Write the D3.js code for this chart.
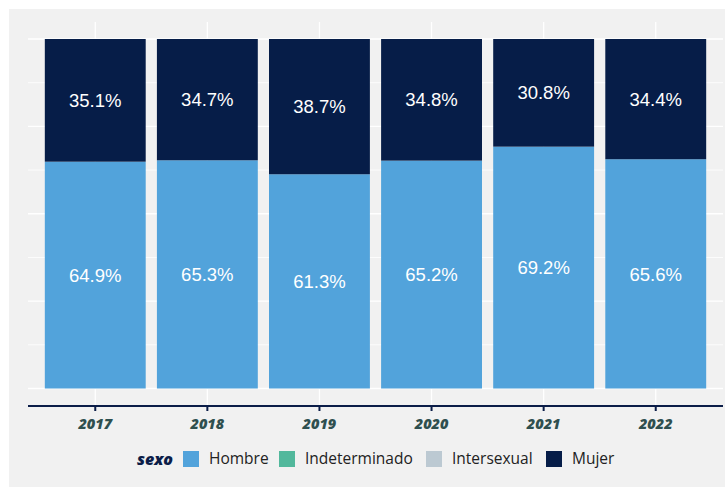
<!DOCTYPE html>
<html>
<head>
<meta charset="utf-8">
<script src="https://cdn.jsdelivr.net/npm/d3@7"></script>
<style>
  body { margin: 0; background: #fff; }
  svg { display: block; }
</style>
</head>
<body>
<svg id="chart"></svg>
<script>
// Data
const years = ['2017', '2018', '2019', '2020', '2021', '2022'];
const hombre = [64.9, 65.3, 61.3, 65.2, 69.2, 65.6];
const mujer = [35.1, 34.7, 38.7, 34.8, 30.8, 34.4];
const legendKeys = ['Hombre', 'Indeterminado', 'Intersexual', 'Mujer'];
const legendColors = ['#52a3db', '#52b89c', '#bcc9d2', '#061d48'];

function drawChart() {
    const width = 725;
    const height = 487;
    const svg = d3.select('#chart')
        .attr('width', width)
        .attr('height', height);

    // gray background
    svg.append('rect')
        .attr('x', 9).attr('y', 9)
        .attr('width', width - 9).attr('height', height - 9)
        .attr('fill', '#f1f1f1');

    const panel = { left: 28, right: 723, top: 22, bottom: 406 };

    // band scale with ggplot-like expansion (0.6 of a band on each side)
    const step = (panel.right - panel.left) / (years.length - 1 + 1.2);
    const x = d3.scalePoint()
        .domain(years)
        .range([panel.left + 0.6 * step, panel.right - 0.6 * step]);
    const barW = step * 0.9;

    const y = d3.scaleLinear()
        .domain([0, 100])
        .range([388.5, 39]);

    // gridlines
    const grid = svg.append('g');
    grid.selectAll('line.h')
        .data(d3.range(0, 100.1, 12.5))
        .join('line')
        .attr('x1', panel.left).attr('x2', panel.right)
        .attr('y1', d => y(d)).attr('y2', d => y(d))
        .attr('stroke', '#fff')
        .attr('stroke-width', d => d % 25 === 0 ? 1.3 : 0.8);
    grid.selectAll('line.v')
        .data(years)
        .join('line')
        .attr('x1', d => x(d)).attr('x2', d => x(d))
        .attr('y1', panel.top).attr('y2', panel.bottom)
        .attr('stroke', '#fff')
        .attr('stroke-width', 1.3);

    // stacked bars
    const rows = years.map((yr, i) => ({ year: yr, Hombre: hombre[i], Mujer: mujer[i] }));
    const stack = d3.stack().keys(['Hombre', 'Mujer'])(rows);
    const color = d3.scaleOrdinal().domain(legendKeys).range(legendColors);

    const layers = svg.append('g').selectAll('g')
        .data(stack)
        .join('g')
        .attr('fill', d => color(d.key));

    layers.selectAll('rect')
        .data(d => d)
        .join('rect')
        .attr('x', d => x(d.data.year) - barW / 2)
        .attr('width', barW)
        .attr('y', d => y(d[1]))
        .attr('height', d => y(d[0]) - y(d[1]));

    layers.selectAll('text')
        .data(d => d.map(v => ({ v, key: d.key })))
        .join('text')
        .attr('x', d => x(d.v.data.year))
        .attr('y', d => (y(d.v[0]) + y(d.v[1])) / 2)
        .attr('dy', '0.36em')
        .attr('text-anchor', 'middle')
        .attr('fill', '#fff')
        .style('font-family', '"Liberation Sans", Arial, sans-serif')
        .style('font-size', '18.5px')
        .text(d => d.v.data[d.key].toFixed(1) + '%');

    // x axis
    const axis = svg.append('g')
        .attr('transform', `translate(0,${panel.bottom})`);
    axis.append('line')
        .attr('x1', panel.left).attr('x2', panel.right)
        .attr('stroke', '#0b1d48').attr('stroke-width', 2);
    axis.selectAll('line.tick')
        .data(years)
        .join('line')
        .attr('x1', d => x(d)).attr('x2', d => x(d))
        .attr('y1', 0).attr('y2', 5)
        .attr('stroke', '#0b1d48').attr('stroke-width', 2);
    axis.selectAll('text')
        .data(years)
        .join('text')
        .attr('x', d => x(d))
        .attr('y', 22.5)
        .attr('text-anchor', 'middle')
        .attr('fill', '#2f4f4f')
        .style('font-family', '"Open Sans", sans-serif')
        .style('font-weight', '800')
        .style('font-style', 'italic')
        .style('font-size', '14.5px')
        .text(d => d);

    // legend
    const legend = svg.append('g').attr('transform', 'translate(0,459)');
    legend.append('text')
        .attr('x', 137).attr('y', 0).attr('dy', '0.35em')
        .attr('fill', '#0b1d48')
        .style('font-family', '"Open Sans", sans-serif')
        .style('font-weight', '800')
        .style('font-style', 'italic')
        .style('font-size', '16px')
        .text('sexo');
    const keyX = [183, 279, 426, 546];
    const items = legend.selectAll('g.key')
        .data(legendKeys)
        .join('g')
        .attr('transform', (d, i) => `translate(${keyX[i]},0)`);
    items.append('rect')
        .attr('x', 0).attr('y', -8)
        .attr('width', 16).attr('height', 16)
        .attr('fill', d => color(d));
    items.append('text')
        .attr('x', 26).attr('dy', '0.35em')
        .attr('fill', '#222')
        .style('font-family', '"Open Sans", sans-serif')
        .style('font-size', '15.5px')
        .text(d => d);
}

drawChart();
</script>
</body>
</html>
